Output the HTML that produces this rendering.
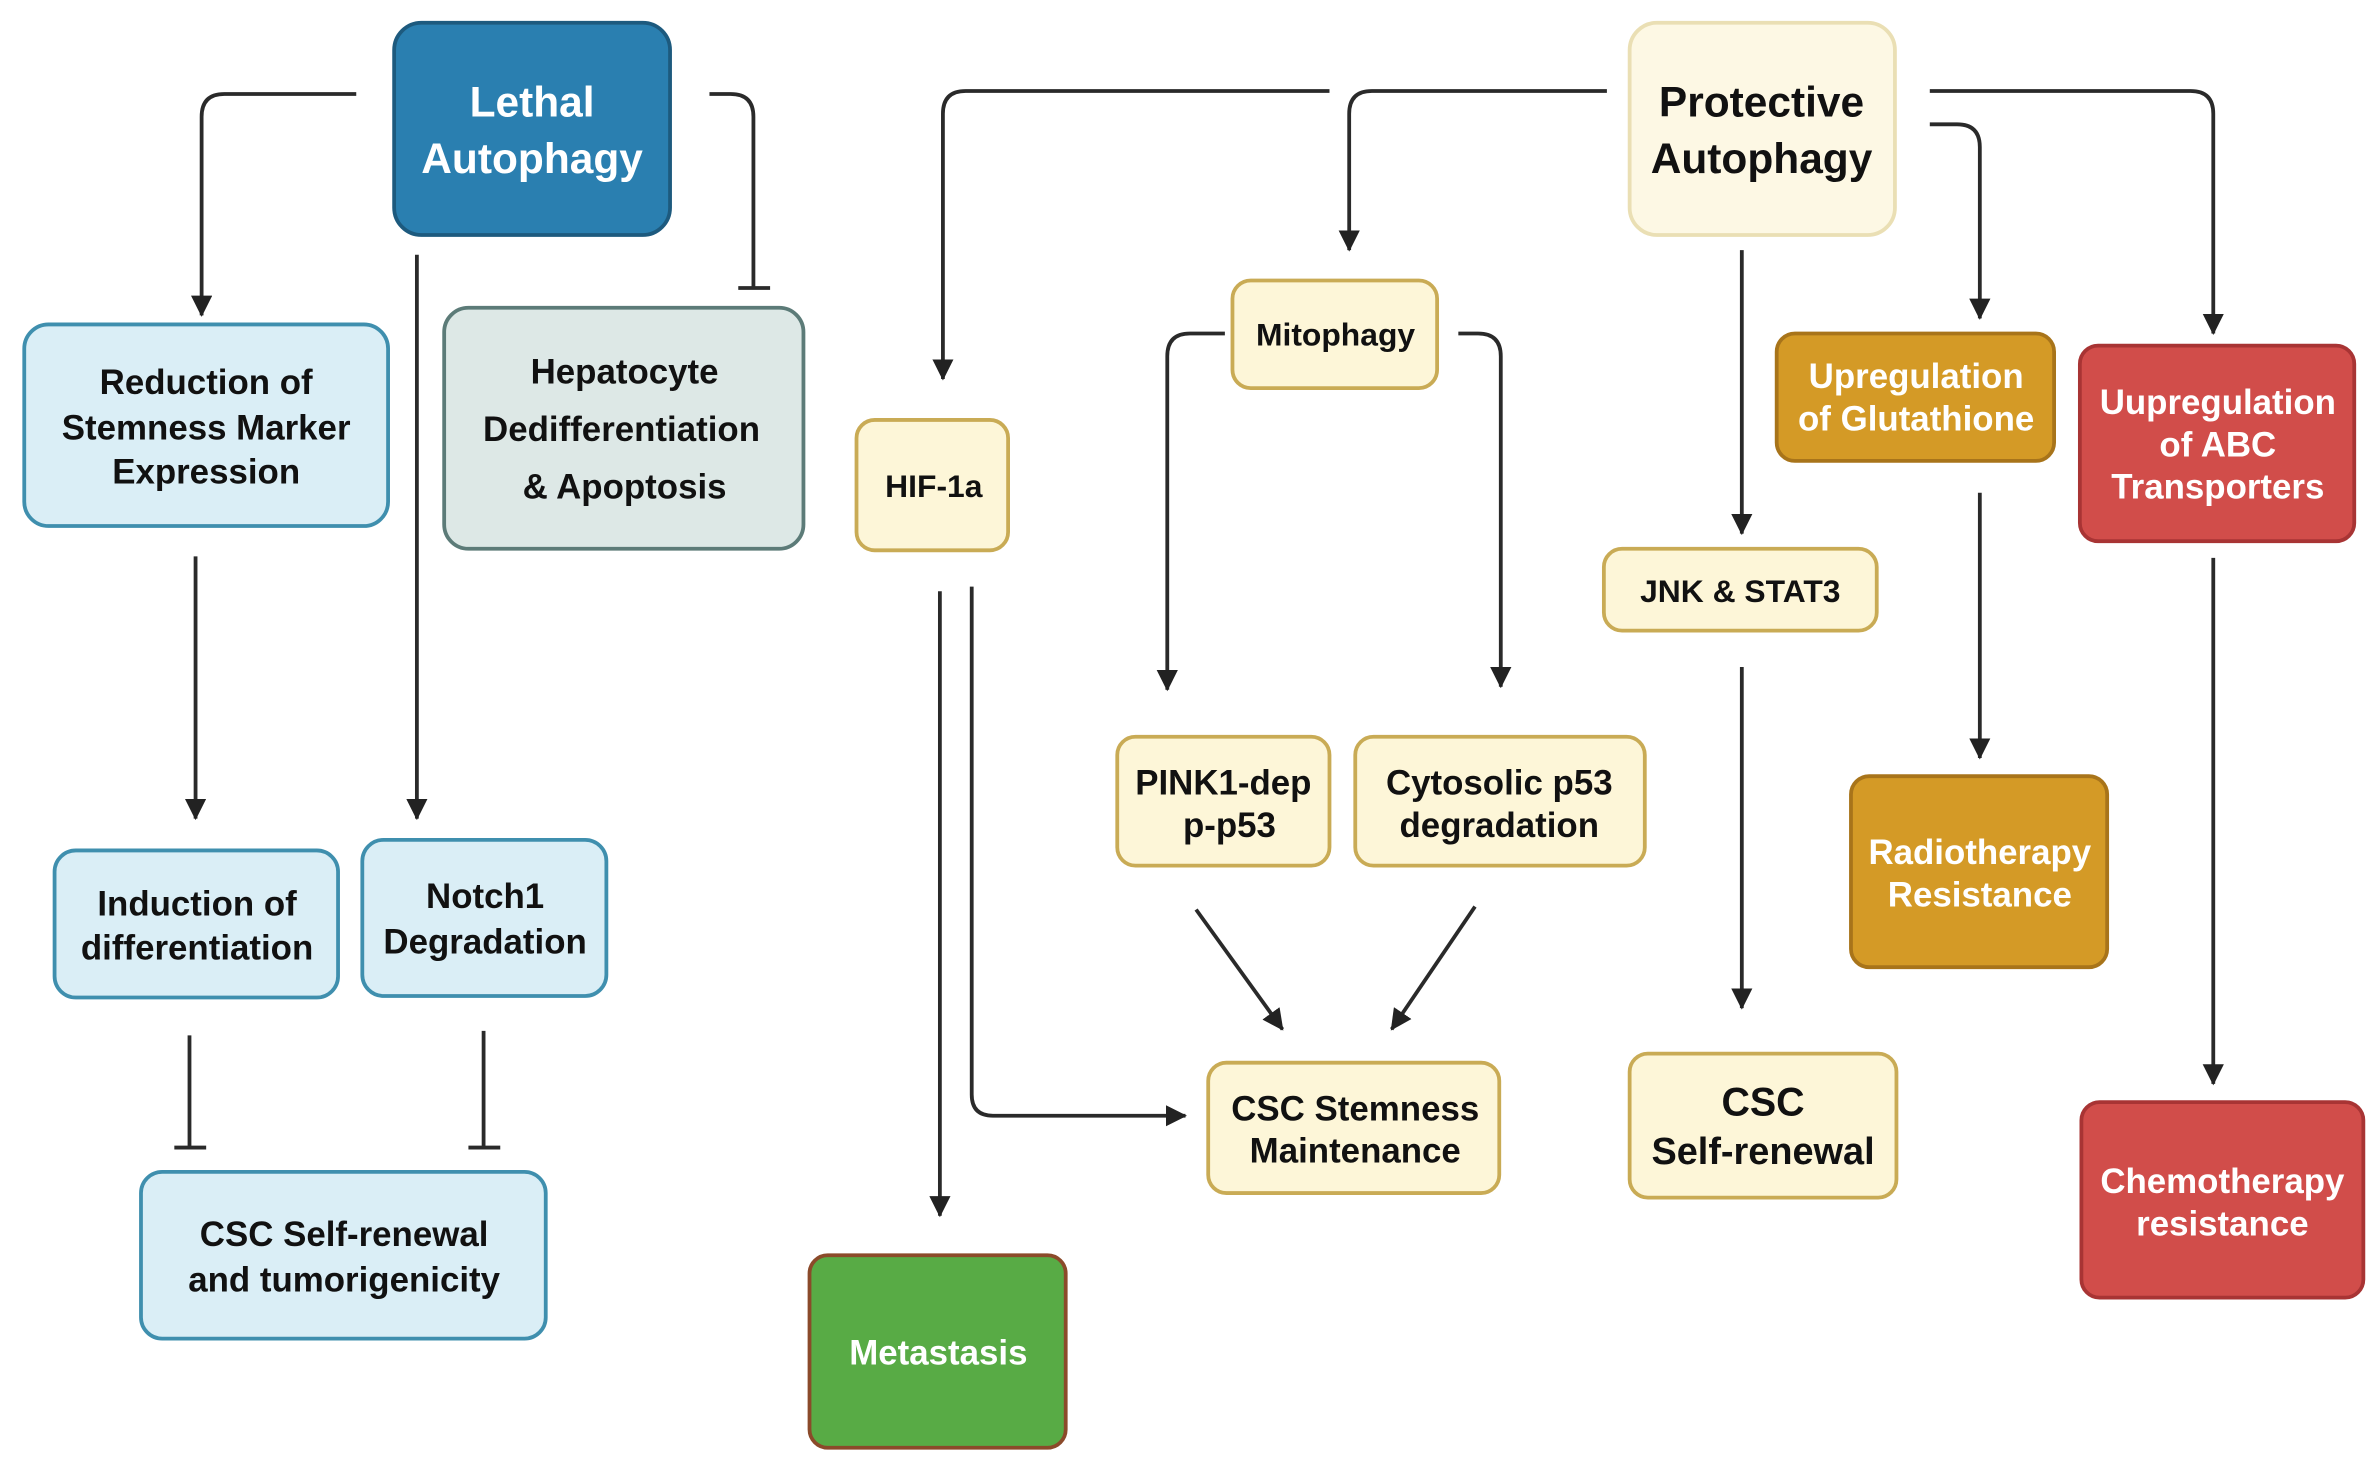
<!DOCTYPE html>
<html><head><meta charset="utf-8"><style>
html,body{margin:0;padding:0;background:#fff;}
svg{display:block;}
text{font-family:"Liberation Sans",sans-serif;font-weight:bold;text-anchor:middle;}
</style></head><body>
<svg width="2377" height="1472" viewBox="0 0 1568 971" xmlns="http://www.w3.org/2000/svg">
<defs>
<marker id="a" viewBox="0 0 14 14" refX="13" refY="7" markerWidth="14" markerHeight="14" orient="auto" markerUnits="userSpaceOnUse">
<path d="M0,0 L14,7 L0,14 z" fill="#222"/>
</marker>
</defs>
<g fill="none" stroke="#2a2a2a" stroke-width="2.5">
<path d="M235,62 H148 Q133,62 133,77 V208" marker-end="url(#a)"/>
<path d="M468,62 H482 Q497,62 497,77 V190"/><path d="M487,190 H508"/>
<path d="M275,168 V540" marker-end="url(#a)"/>
<path d="M129,367 V540" marker-end="url(#a)"/>
<path d="M125,683 V757"/><path d="M115,757 H136"/>
<path d="M319,680 V757"/><path d="M309,757 H330"/>
<path d="M1060,60 H905 Q890,60 890,75 V165" marker-end="url(#a)"/>
<path d="M877,60 H637 Q622,60 622,75 V250" marker-end="url(#a)"/>
<path d="M1273,60 H1445 Q1460,60 1460,75 V220" marker-end="url(#a)"/>
<path d="M1273,82 H1291 Q1306,82 1306,97 V210" marker-end="url(#a)"/>
<path d="M1149,165 V352" marker-end="url(#a)"/>
<path d="M1149,440 V665" marker-end="url(#a)"/>
<path d="M1306,325 V500" marker-end="url(#a)"/>
<path d="M1460,368 V715" marker-end="url(#a)"/>
<path d="M808,220 H785 Q770,220 770,235 V455" marker-end="url(#a)"/>
<path d="M962,220 H975 Q990,220 990,235 V453" marker-end="url(#a)"/>
<path d="M789,600 L846,679" marker-end="url(#a)"/>
<path d="M973,598 L918,679" marker-end="url(#a)"/>
<path d="M620,390 V802" marker-end="url(#a)"/>
<path d="M641,387 V722 Q641,736 655,736 H782" marker-end="url(#a)"/>
</g>
<g stroke-width="2.5">
<rect x="260" y="15" width="182" height="140" rx="18" fill="#2a7fb0" stroke="#1d5a7e"/>
<rect x="1075" y="15" width="175" height="140" rx="18" fill="#fdf8e4" stroke="#eadfb4"/>
<rect x="16" y="214" width="240" height="133" rx="16" fill="#daeef6" stroke="#3f8fae"/>
<rect x="293" y="203" width="237" height="159" rx="16" fill="#dde8e6" stroke="#5c7b78"/>
<rect x="36" y="561" width="187" height="97" rx="14" fill="#daeef6" stroke="#3f8fae"/>
<rect x="239" y="554" width="161" height="103" rx="14" fill="#daeef6" stroke="#3f8fae"/>
<rect x="93" y="773" width="267" height="110" rx="14" fill="#daeef6" stroke="#3f8fae"/>
<rect x="565" y="277" width="100" height="86" rx="12" fill="#fdf6d8" stroke="#c9ab55"/>
<rect x="813" y="185" width="135" height="71" rx="12" fill="#fdf6d8" stroke="#c9ab55"/>
<rect x="737" y="486" width="140" height="85" rx="12" fill="#fdf6d8" stroke="#c9ab55"/>
<rect x="894" y="486" width="191" height="85" rx="12" fill="#fdf6d8" stroke="#c9ab55"/>
<rect x="797" y="701" width="192" height="86" rx="12" fill="#fdf6d8" stroke="#c9ab55"/>
<rect x="1058" y="362" width="180" height="54" rx="12" fill="#fdf6d8" stroke="#c9ab55"/>
<rect x="1075" y="695" width="176" height="95" rx="12" fill="#fdf6d8" stroke="#c9ab55"/>
<rect x="1172" y="220" width="183" height="84" rx="12" fill="#d49a26" stroke="#a8741a"/>
<rect x="1221" y="512" width="169" height="126" rx="12" fill="#d49a26" stroke="#a8741a"/>
<rect x="1372" y="228" width="181" height="129" rx="12" fill="#d14d4a" stroke="#a83434"/>
<rect x="1373" y="727" width="186" height="129" rx="12" fill="#d14d4a" stroke="#a83434"/>
<rect x="534" y="828" width="169" height="127" rx="12" fill="#58ab45" stroke="#8b4a2a"/>
</g>
<g font-size="28" fill="#fff">
<text x="351" y="77">Lethal</text><text x="351" y="114">Autophagy</text>
</g>
<g font-size="28" fill="#111">
<text x="1162" y="77">Protective</text><text x="1162" y="114">Autophagy</text>
</g>
<g font-size="23" fill="#111">
<text x="136" y="260">Reduction of</text><text x="136" y="290">Stemness Marker</text><text x="136" y="319">Expression</text>
<text x="412" y="253">Hepatocyte</text><text x="410" y="291">Dedifferentiation</text><text x="412" y="329">&amp; Apoptosis</text>
<text x="130" y="604">Induction of</text><text x="130" y="633">differentiation</text>
<text x="320" y="599">Notch1</text><text x="320" y="629">Degradation</text>
<text x="227" y="822">CSC Self-renewal</text><text x="227" y="852">and tumorigenicity</text>
<text x="616" y="328" font-size="21">HIF-1a</text>
<text x="881" y="228" font-size="21">Mitophagy</text>
<text x="807" y="524">PINK1-dep</text><text x="811" y="552">p-p53</text>
<text x="989" y="524">Cytosolic p53</text><text x="989" y="552">degradation</text>
<text x="894" y="739">CSC Stemness</text><text x="894" y="767">Maintenance</text>
<text x="1148" y="397" font-size="21">JNK &amp; STAT3</text>
<text x="1163" y="736" font-size="26">CSC</text><text x="1163" y="768" font-size="25">Self-renewal</text>
</g>
<g font-size="23" fill="#fff">
<text x="1264" y="256">Upregulation</text><text x="1264" y="284">of Glutathione</text>
<text x="1306" y="570">Radiotherapy</text><text x="1306" y="598">Resistance</text>
<text x="1463" y="273">Uupregulation</text><text x="1463" y="301">of ABC</text><text x="1463" y="329">Transporters</text>
<text x="1466" y="787">Chemotherapy</text><text x="1466" y="815">resistance</text>
<text x="619" y="900">Metastasis</text>
</g>
</svg>
</body></html>
